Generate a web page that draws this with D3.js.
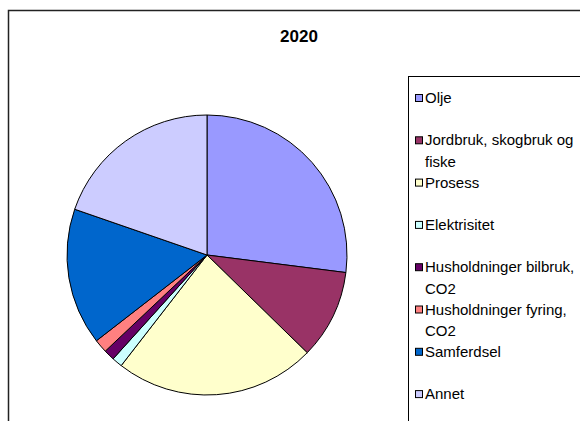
<!DOCTYPE html>
<html>
<head>
<meta charset="utf-8">
<script src="https://cdn.jsdelivr.net/npm/d3@7"></script>
<style>
  html, body { margin: 0; padding: 0; background: #fff; }
  svg { display: block; }
  text { font-family: "Liberation Sans", Arial, sans-serif; }
</style>
</head>
<body>
<svg id="chart" width="580" height="421"></svg>
<script>
const title = "2020";
const categories = ["Olje", "Jordbruk, skogbruk og fiske", "Prosess", "Elektrisitet",
  "Husholdninger bilbruk, CO2", "Husholdninger fyring, CO2", "Samferdsel", "Annet"];
const values = [27.0, 10.3, 23.2, 1.2, 1.25, 1.55, 15.8, 19.7];
const colors = ["#9999FF", "#993366", "#FFFFCC", "#CCFFFF", "#660066", "#FF8080", "#0066CC", "#CCCCFF"];

const svg = d3.select("#chart");

// outer chart border
svg.append("rect").attr("x", 8.5).attr("y", 10.5).attr("width", 600).attr("height", 450)
  .attr("fill", "#fff").attr("stroke", "#222").attr("stroke-width", 1.5);

// title
svg.append("text").attr("x", 299).attr("y", 42).attr("text-anchor", "middle")
  .attr("font-size", "17px").attr("font-weight", "bold").text(title);

// pie
const cx = 207, cy = 255, R = 140;
const pie = d3.pie().sort(null).value(d => d.v);
const arc = d3.arc().innerRadius(0).outerRadius(R);
const data = categories.map((c, i) => ({ c, v: values[i], col: colors[i] }));
const g = svg.append("g").attr("transform", `translate(${cx},${cy})`);
g.selectAll("path").data(pie(data)).join("path")
  .attr("d", arc).attr("fill", d => d.data.col)
  .attr("stroke", "#000").attr("stroke-width", 1).attr("stroke-linejoin", "round");

// legend
svg.append("rect").attr("x", 408.5).attr("y", 76.5).attr("width", 300).attr("height", 400)
  .attr("fill", "none").attr("stroke", "#000").attr("stroke-width", 1);

const lx = 415, tx = 425, y0 = 98, step = 42.3, lineH = 21.5, maxW = 162;
const lg = svg.append("g");
data.forEach((d, i) => {
  const yc = y0 + i * step;
  lg.append("rect").attr("x", lx + 0.5).attr("y", yc - 3.5).attr("width", 7).attr("height", 7)
    .attr("fill", d.col).attr("stroke", "#000").attr("stroke-width", 1);
  const t = lg.append("text").attr("x", tx).attr("y", yc + 5).attr("font-size", "15px");
  const words = d.c.split(" ");
  let line = [], ts = t.append("tspan").attr("x", tx).attr("y", yc + 5);
  let lineNo = 0;
  words.forEach(w => {
    line.push(w);
    ts.text(line.join(" "));
    if (ts.node().getComputedTextLength() > maxW && line.length > 1) {
      line.pop();
      ts.text(line.join(" "));
      line = [w];
      lineNo++;
      ts = t.append("tspan").attr("x", tx).attr("y", yc + 5 + lineNo * lineH).text(w);
    }
  });
});
</script>
</body>
</html>
